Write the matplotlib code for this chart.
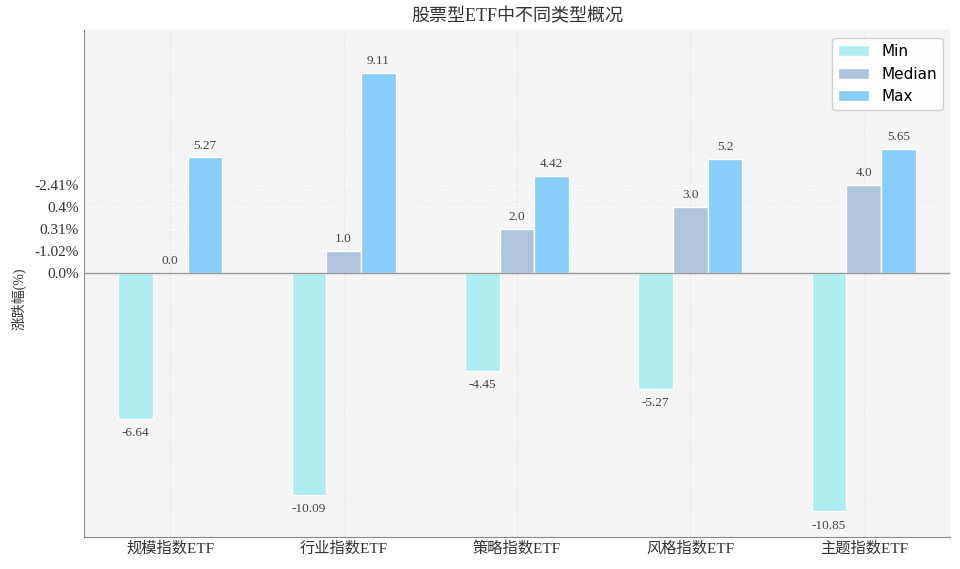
import matplotlib.pyplot as plt
import numpy as np

categories = ['规模指数ETF', '行业指数ETF', '策略指数ETF', '风格指数ETF', '主题指数ETF']
min_vals = [-6.64, -10.09, -4.45, -5.27, -10.85]
median_vals = [0.0, 1.0, 2.0, 3.0, 4.0]
max_vals = [5.27, 9.11, 4.42, 5.2, 5.65]
ytick_pos = [0, 1, 2, 3, 4]
ytick_labels = ['0.0%', '-1.02%', '0.31%', '0.4%', '-2.41%']

serif = ['Liberation Serif', 'Noto Sans CJK SC']
plt.rcParams['font.family'] = serif

fig, ax = plt.subplots(figsize=(9.6, 5.69), dpi=100)
fig.subplots_adjust(left=0.087, right=0.99, top=0.947, bottom=0.057)
ax.set_facecolor('#f5f5f5')

x = np.arange(len(categories))
w = 0.2
series = [
    ('Min', min_vals, '#afeeee', -w),
    ('Median', median_vals, '#b0c4de', 0),
    ('Max', max_vals, '#87cefa', w),
]
for name, vals, color, off in series:
    bars = ax.bar(x + off, vals, width=w, color=color, edgecolor='white',
                  linewidth=1, label=name, zorder=3)
    for b, v in zip(bars, vals):
        # labels go above positive bars and below negative ones
        if v >= 0:
            ax.annotate(f'{v}', (b.get_x() + b.get_width() / 2, v),
                        xytext=(0, 4), textcoords='offset points',
                        ha='center', va='bottom', fontsize=9.5, color='#444444')
        else:
            ax.annotate(f'{v}', (b.get_x() + b.get_width() / 2, v),
                        xytext=(0, -6), textcoords='offset points',
                        ha='center', va='top', fontsize=9.5, color='#444444')

ax.axhline(0, color='#999999', linewidth=1, zorder=4)
ax.set_xlim(-0.5, 4.5)
ax.set_ylim(-12, 11.05)
ax.set_xticks(x)
ax.set_xticklabels(categories, fontsize=11)
ax.set_yticks(ytick_pos)
ax.set_yticklabels(ytick_labels, fontsize=11)
ax.tick_params(length=0, colors='#333333')
ax.grid(axis='x', color='#e6e6e6', linestyle=':', linewidth=1, zorder=0)
ax.grid(axis='y', color='white', linestyle=':', linewidth=1, zorder=0)

for s in ['top', 'right']:
    ax.spines[s].set_visible(False)
for s in ['left', 'bottom']:
    ax.spines[s].set_color('#888888')

ax.set_ylabel('涨跌幅(%)', fontsize=10, color='#333333')
ax.yaxis.set_label_coords(-0.066, 0.47)
ax.set_title('股票型ETF中不同类型概况', fontsize=13, color='#333333')

ax.legend(loc='upper right', prop={'family': 'DejaVu Sans', 'size': 11},
          fancybox=True, framealpha=0.9, edgecolor='#cccccc')

fig.savefig('out.png')
